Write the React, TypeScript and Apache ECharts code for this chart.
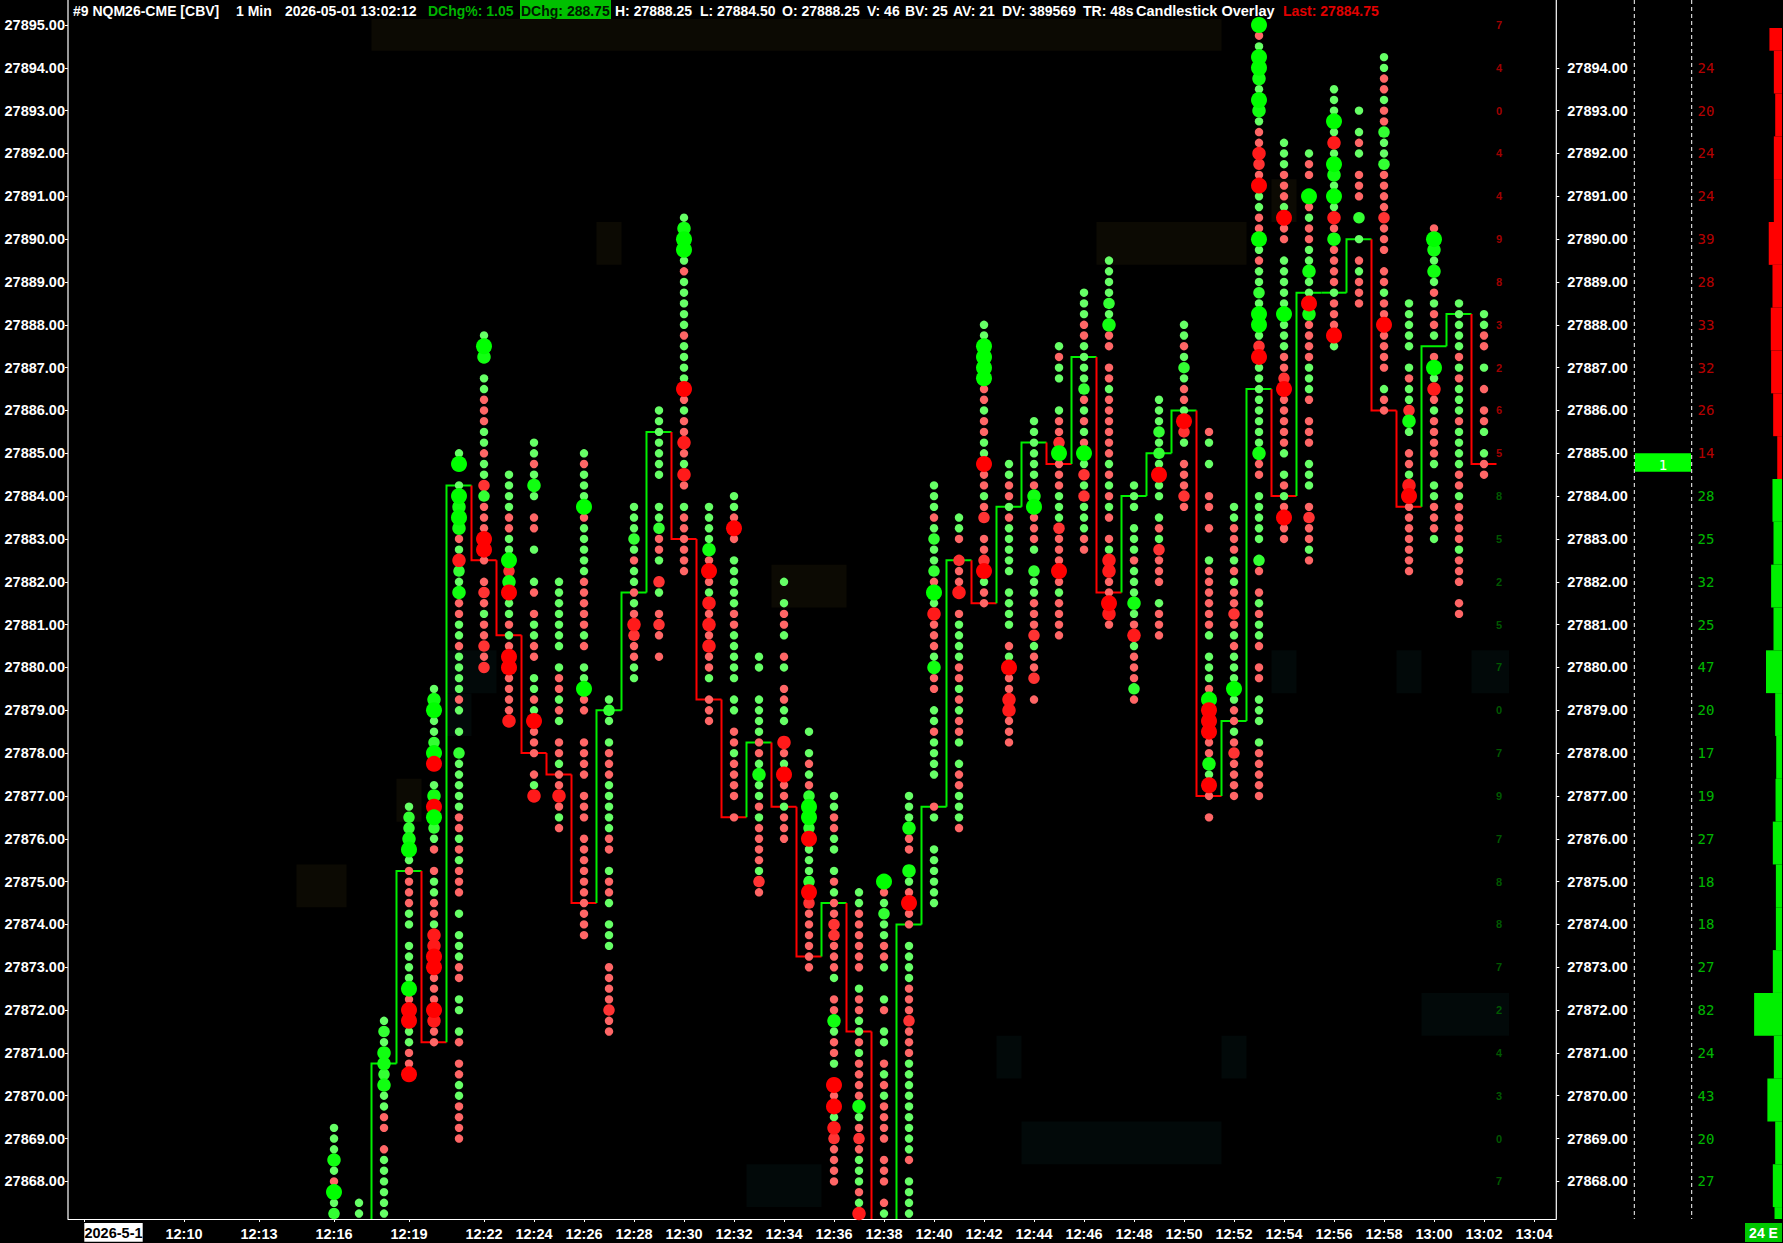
import React, { useEffect, useRef } from "react";
import * as echarts from "echarts";

// ---- price scale
const topPrice = 27895;
const rowStep = 0.25;
const priceTicks = [27895, 27894, 27893, 27892, 27891, 27890, 27889, 27888, 27887, 27886, 27885, 27884, 27883, 27882, 27881, 27880, 27879, 27878, 27877, 27876, 27875, 27874, 27873, 27872, 27871, 27870, 27869, 27868];

// ---- time scale (minutes after 12:00)
const timeTicks = [6, 10, 13, 16, 19, 22, 24, 26, 28, 30, 32, 34, 36, 38, 40, 42, 44, 46, 48, 50, 52, 54, 56, 58, 60, 62, 64];
const timeLabels = ["", "12:10", "12:13", "12:16", "12:19", "12:22", "12:24", "12:26", "12:28", "12:30", "12:32", "12:34", "12:36", "12:38", "12:40", "12:42", "12:44", "12:46", "12:48", "12:50", "12:52", "12:54", "12:56", "12:58", "13:00", "13:02", "13:04"];

// ---- dots: each string runs down the price ladder from its first row, one char per 0.25
const dotMinutes = [16, 17, 18, 19, 20, 21, 22, 23, 24, 25, 26, 27, 28, 29, 30, 31, 32, 33, 34, 35, 36, 37, 38, 39, 40, 41, 42, 43, 44, 45, 46, 47, 48, 49, 50, 51, 52, 53, 54, 55, 56, 57, 58, 59, 60, 61, 62];
const dotFirstRows = [103, 110, 93, 73, 62, 40, 29, 42, 39, 52, 40, 63, 45, 36, 18, 45, 44, 59, 52, 66, 72, 81, 80, 72, 43, 46, 28, 41, 37, 30, 25, 22, 43, 35, 28, 38, 45, 0, 11, 12, 6, 8, 3, 26, 19, 26, 27];
const dotRows = [
  "gggBgrCgA",
  "gg",
  "gAgBBABggrr.rgggggg",
  "gAABCgrrrrgg.ggggCrZZggrrZ",
  "gBCggACZ.gBZCAgr.rggrrgYYZZrrrZYrr",
  "gC.gCBCBrgYAgBrrggrggggrg.g.Agggggrrgrgrrr.g.gggrr.gg.gr.rrggrrrr",
  "gCB.ggrrrggrggXArrrZZr.rXrgrrXrX",
  "ggggrrggCXBZggrgrZZrrrrY",
  "ggrgBg.rr.g..gr.rggrr.ggrgZrrr.rgY",
  "ggggggg.grrgrg.rrgrrYrgr",
  "grgggCrgggggrrrrrgr.ggCrr..rrrr.rrr.rrrrrrrrrr",
  "gAg.grrrgggggrr.grrg.ggg.rrrrXrr",
  "gggAgrggrgrYXrrgg",
  "ggggggg..ggArrg.Xg.rXr.r",
  "gBCCgrgggggrggggZrgrrYrgYr.grrrrrr",
  "ggggBrZrgYrYrYrrg.rrr",
  "ggrZr.gggggrrggggg.gg.rrgrrrr.r",
  "gg..ggggrrgBggrgrrrrgXr",
  "g.grrg.rg.rrgg.YrgZrrgrrr",
  "g.grgrACCAZgggAZXrrrrrr",
  "ggrrgg.grgrrXXrrrg.rrBgrrg.ZrZgYXrrrr",
  "ggrrrrrr.grrggrgrrrrBgrXrgggrgY",
  "CrgAggrrg..gr.gg.rgrgrrrr.rrr.rg",
  "gggBrr.BgrZrr.ggggrrrXrrrgggggggggr.gggg",
  "gggrgAggArCgYrrrgBrr.ggrgggg..rg..gggggg",
  "ggr.XrrY.rggggrrgrgrrg.grrgggr",
  "ggCCCCrrgrrggZrrgrX.rrXZgrr",
  "ggrrgrggggg.gggg.rgZrrYYrrr",
  "ggggggrBCrrrg.AggrrrXgrrX.r",
  "grgg..grrXCrrrgggXrrrZrgrrrr",
  "gggrrggggArgrgrCgXgXgggrr",
  "ggggAgBrr.rrgrrrrrrgrgrgr.rgYYrrZYr",
  "ggg.gggrgggBgrYgrrrAr",
  "gggAgAgZgg.grgXrrr.grrr",
  "ggrgAgrrgZXg.rrrXr",
  "rg.g..rr.r..grrrrrrg.gggrCZZZrrBgZr.r",
  "ggrrrgrgrrXrgrgggCgrrgrXrrrr",
  "CrgCCBgCBgrrYXrZggrrCgrggAgCCgXZggggggggBrr.ggggg.Ar.rgrggr.rr.ggg.grrrrr",
  "gggrrrgZrr.gggggCgggrrXZrrrrrg.grgrZrr",
  "grr.CrgrrggBggZBrrrrgggr.rrr.ggg.rXrrgr",
  "gggCgYgCBgCgYrBrrrrgrrrZg",
  "g.grg.rrr.A.g.rgrrr",
  "ggrrgrrAggArrrrXrrr.rrgrrZrrrr.grr",
  "ggggg.grggXBg.rrgYZrrrrrrr",
  "rCBgBgrgrrg.rCgYrgrrrrg.ggrrrg",
  "gggggrgrgggrggggrrgrrrrgrrr.rr",
  "ggrr.g.r.rrg.grr",
];

// ---- step overlay: close of each one-minute bar
const stepMinutes = [17, 18, 19, 20, 21, 22, 23, 24, 25, 26, 27, 28, 29, 30, 31, 32, 33, 34, 35, 36, 37, 38, 39, 40, 41, 42, 43, 44, 45, 46, 47, 48, 49, 50, 51, 52, 53, 54, 55, 56, 57, 58, 59, 60, 61, 62];
const stepCloses = [27866.5, 27870.75, 27875.25, 27871.25, 27884.25, 27882.5, 27880.75, 27878, 27877.5, 27874.5, 27879, 27881.75, 27885.5, 27883, 27879.25, 27876.5, 27878.25, 27876.75, 27873.25, 27874.5, 27871.5, 27866.5, 27874, 27876.75, 27882.5, 27881.5, 27883.75, 27885.25, 27884.75, 27887.25, 27881.75, 27884, 27885, 27886, 27877, 27878.75, 27886.5, 27884, 27888.75, 27888.75, 27890, 27886, 27883.75, 27887.5, 27888.25, 27884.75];

// ---- shaded cells: [first minute, last minute, price]
const warmBands = [[17.5, 51.5, 27895], [26.5, 27.5, 27890], [46.5, 52.5, 27890], [53.5, 54.5, 27891], [33.5, 36.5, 27882], [18.5, 19.5, 27877], [14.5, 16.5, 27875]];
const coolBands = [[20.5, 22.5, 27880], [20.5, 21.5, 27879], [59.5, 63, 27872], [42.5, 43.5, 27871], [51.5, 52.5, 27871], [43.5, 51.5, 27869], [32.5, 35.5, 27868], [53.5, 54.5, 27880], [58.5, 59.5, 27880], [61.5, 63, 27880]];

// ---- small per-price digits next to the last bar
const digitPrices = priceTicks;
const digitValues = [7, 4, 0, 4, 4, 9, 8, 3, 2, 6, 5, 8, 5, 2, 5, 7, 0, 7, 9, 7, 8, 8, 7, 2, 4, 3, 0, 7];

// ---- volume profile
const profilePrices = [27895, 27894, 27893, 27892, 27891, 27890, 27889, 27888, 27887, 27886, 27885, 27884, 27883, 27882, 27881, 27880, 27879, 27878, 27877, 27876, 27875, 27874, 27873, 27872, 27871, 27870, 27869, 27868];
const profileVolumes = [37, 24, 20, 24, 24, 39, 28, 33, 32, 26, 14, 28, 25, 32, 25, 47, 20, 17, 19, 27, 18, 18, 27, 82, 24, 43, 20, 27];
const profileTail = [[27867, 22]];

// ---- current-price box
const quotePrice = 27885;
const quoteLow = 27884.57;
const quoteSize = 1;

// ---- header
const headerSegments: [string, number, string][] = [
  ["#9 NQM26-CME [CBV]", 73, "#ffffff"],
  ["1 Min", 236, "#ffffff"],
  ["2026-05-01 13:02:12", 285, "#ffffff"],
  ["DChg%: 1.05", 428, "#00b400"],
  ["DChg: 288.75", 521, "#001a00"],
  ["H: 27888.25", 615, "#ffffff"],
  ["L: 27884.50", 700, "#ffffff"],
  ["O: 27888.25", 782, "#ffffff"],
  ["V: 46", 867, "#ffffff"],
  ["BV: 25", 905, "#ffffff"],
  ["AV: 21", 953, "#ffffff"],
  ["DV: 389569", 1002, "#ffffff"],
  ["TR: 48s", 1083, "#ffffff"],
  ["Candlestick Overlay", 1136, "#ffffff"],
  ["Last: 27884.75", 1283, "#e00000"],
];

const FONT = "Liberation Sans";
const DOT: Record<string, [number, string]> = {
  g: [8.4, "#66ff66"],
  r: [8.4, "#ff6666"],
  A: [11.5, "#33ff33"],
  X: [11.5, "#ff3333"],
  B: [13.5, "#11ff11"],
  Y: [13.5, "#ff1a1a"],
  C: [16, "#00ff00"],
  Z: [16, "#ff0000"],
};

function dotData() {
  const out: any[] = [];
  dotRows.forEach((row, c) => {
    row.split("").forEach((ch, i) => {
      if (ch === ".") return;
      const [size, color] = DOT[ch];
      out.push({
        value: [dotMinutes[c], topPrice - rowStep * (dotFirstRows[c] + i)],
        symbolSize: size,
        itemStyle: { color, opacity: 1 },
      });
    });
  });
  out.sort((a, b) => a.symbolSize - b.symbolSize);
  return out;
}

export default function App() {
  const ref = useRef<HTMLDivElement>(null);
  useEffect(() => {
    document.body.style.margin = "0";
    document.body.style.background = "#000";
    const chart = echarts.init(ref.current!, undefined, { renderer: "svg" });

    const yMin = 27867.122;
    const yMaxMain = 27895.14;
    const yMaxSide = 27894.93;
    const hidden = { show: false };

    const cellRect = (api: any, a: number, b: number, lo: number, hi: number) => {
      const p1 = api.coord([a, hi]);
      const p2 = api.coord([b, lo]);
      return { x: p1[0], y: p1[1], width: p2[0] - p1[0], height: p2[1] - p1[1] };
    };

    const header: any[] = headerSegments.map(([text, x, fill]) => ({
      type: "text",
      x,
      y: 11,
      z: 110,
      style: { text, fill, font: `bold ${text.startsWith("Candle") ? 14.5 : 14}px "${FONT}"`, textVerticalAlign: "middle", verticalAlign: "middle" },
    }));

    const option: any = {
      animation: false,
      backgroundColor: "#000000",
      grid: [
        { left: 68, right: 226.7, top: 19, bottom: 24 },
        { left: 1556.3, width: 135.4, top: 28, bottom: 24 },
        { left: 1692, width: 90, top: 28, bottom: 24 },
      ],
      xAxis: [
        {
          type: "value",
          gridIndex: 0,
          min: 5.36,
          max: 64.892,
          splitLine: hidden,
          axisLine: { show: true, onZero: false, lineStyle: { color: "#ffffff", width: 1.2 } },
          axisTick: { show: true, length: 3, customValues: timeTicks, lineStyle: { color: "#ffffff" } },
          axisLabel: {
            show: true,
            customValues: timeTicks,
            margin: 7,
            color: "#ffffff",
            fontFamily: FONT,
            fontWeight: "bold",
            fontSize: 14.5,
            formatter: (v: number) => timeLabels[timeTicks.indexOf(v)] ?? "",
          },
        },
        { type: "value", gridIndex: 1, min: 0, max: 1, show: false },
        { type: "value", gridIndex: 2, min: 0, max: 264.7, inverse: true, show: false },
      ],
      yAxis: [
        {
          type: "value",
          gridIndex: 0,
          min: yMin,
          max: yMaxMain,
          position: "left",
          splitLine: hidden,
          axisLine: hidden,
          axisTick: { show: true, length: 3, customValues: priceTicks, lineStyle: { color: "#ffffff" } },
          axisLabel: {
            show: true,
            customValues: priceTicks,
            margin: 3,
            padding: [5, 0, 0, 0],
            color: "#ffffff",
            fontFamily: FONT,
            fontWeight: "bold",
            fontSize: 14.5,
            formatter: (v: number) => v.toFixed(2),
          },
        },
        {
          type: "value",
          gridIndex: 1,
          min: yMin,
          max: yMaxSide,
          position: "left",
          splitLine: hidden,
          axisLine: hidden,
          axisTick: { show: true, inside: true, length: 3, customValues: priceTicks, lineStyle: { color: "#ffffff" } },
          axisLabel: {
            show: true,
            inside: true,
            customValues: priceTicks,
            margin: 11,
            padding: [5, 0, 0, 0],
            color: "#ffffff",
            fontFamily: FONT,
            fontWeight: "bold",
            fontSize: 14.5,
            formatter: (v: number) => v.toFixed(2),
          },
        },
        { type: "value", gridIndex: 2, min: yMin, max: yMaxSide, show: false },
      ],
      series: [
        {
          type: "custom",
          name: "warm cells",
          xAxisIndex: 0,
          yAxisIndex: 0,
          clip: true,
          z: 1,
          silent: true,
          data: warmBands,
          renderItem: (_: any, api: any) => ({
            type: "rect",
            shape: cellRect(api, api.value(0), api.value(1), api.value(2) - 0.6, api.value(2) + 0.4),
            style: { fill: "#0c0a03" },
          }),
        },
        {
          type: "custom",
          name: "cool cells",
          xAxisIndex: 0,
          yAxisIndex: 0,
          clip: true,
          z: 1,
          silent: true,
          data: coolBands,
          renderItem: (_: any, api: any) => ({
            type: "rect",
            shape: cellRect(api, api.value(0), api.value(1), api.value(2) - 0.6, api.value(2) + 0.4),
            style: { fill: "#020909" },
          }),
        },
        {
          type: "custom",
          name: "overlay",
          xAxisIndex: 0,
          yAxisIndex: 0,
          clip: true,
          z: 2,
          silent: true,
          data: stepMinutes.slice(1).map((m, i) => [m, stepCloses[i], stepCloses[i + 1]]),
          renderItem: (_: any, api: any) => {
            const m = api.value(0);
            const prev = api.value(1);
            const close = api.value(2);
            return {
              type: "polyline",
              shape: { points: [api.coord([m - 0.5, prev]), api.coord([m - 0.5, close]), api.coord([m + 0.5, close])] },
              style: { fill: "none", stroke: close >= prev ? "#00f000" : "#ff0000", lineWidth: 2 },
            };
          },
        },
        {
          type: "scatter",
          name: "dots",
          xAxisIndex: 0,
          yAxisIndex: 0,
          clip: true,
          z: 3,
          silent: true,
          data: dotData(),
        },
        {
          type: "scatter",
          name: "digits",
          xAxisIndex: 0,
          yAxisIndex: 0,
          z: 4,
          silent: true,
          symbolSize: 1,
          itemStyle: { color: "transparent" },
          data: digitPrices.map((p, i) => ({
            value: [62.6, p],
            label: {
              show: true,
              position: "inside",
              color: p >= 27885 ? "#cc0000" : "#007000",
              fontFamily: FONT,
              fontWeight: "bold",
              fontSize: 11,
              formatter: String(digitValues[i]),
            },
          })),
        },
        {
          type: "custom",
          name: "quote",
          xAxisIndex: 1,
          yAxisIndex: 1,
          z: 3,
          silent: true,
          data: [[quotePrice, quoteLow, quoteSize]],
          renderItem: (_: any, api: any) => {
            const r = cellRect(api, 0.58, 0.995, api.value(1), api.value(0));
            return {
              type: "group",
              children: [
                { type: "rect", shape: r, style: { fill: "#00ff00" } },
                {
                  type: "text",
                  x: r.x + r.width / 2,
                  y: r.y + r.height / 2 + 2,
                  style: { text: String(api.value(2)), fill: "#ffffff", font: `14px "DejaVu Sans Mono"`, textAlign: "center", textVerticalAlign: "middle", align: "center", verticalAlign: "middle" },
                },
              ],
            };
          },
        },
        {
          type: "custom",
          name: "profile",
          xAxisIndex: 2,
          yAxisIndex: 2,
          clip: true,
          z: 3,
          silent: true,
          data: profilePrices.map((p, i) => [p, profileVolumes[i]]).concat(profileTail),
          renderItem: (_: any, api: any) => {
            const p = api.value(0);
            const lo = api.coord([api.value(1), p + 0.4]);
            const hi = api.coord([0, p - 0.6]);
            return {
              type: "rect",
              shape: { x: lo[0], y: lo[1], width: hi[0] - lo[0], height: hi[1] - lo[1] },
              style: { fill: p >= 27885 ? "#ff0000" : "#00f000" },
            };
          },
        },
        {
          type: "scatter",
          name: "profile labels",
          xAxisIndex: 2,
          yAxisIndex: 2,
          z: 4,
          silent: true,
          symbolSize: 1,
          itemStyle: { color: "transparent" },
          data: profilePrices.map((p, i) => ({
            value: [250, p],
            label: {
              show: true,
              position: "right",
              distance: 0,
              color: p >= 27885 ? "#e60000" : "#00e600",
              fontFamily: "DejaVu Sans Mono",
              fontSize: 14,
              formatter: String(profileVolumes[i]),
            },
          })),
        },
      ],
      graphic: [
        { type: "rect", z: 100, shape: { x: 1558, y: 0, width: 225, height: 28 }, style: { fill: "#000000" } },
        { type: "line", z: 105, shape: { x1: 68, y1: 0, x2: 68, y2: 1219 }, style: { stroke: "#ffffff", lineWidth: 1.2 } },
        { type: "line", z: 105, shape: { x1: 1556.3, y1: 0, x2: 1556.3, y2: 1219 }, style: { stroke: "#ffffff", lineWidth: 1.2 } },
        { type: "line", z: 105, shape: { x1: 1634.3, y1: 0, x2: 1634.3, y2: 1219 }, style: { stroke: "#ffffff", lineWidth: 1, lineDash: [4, 3] } },
        { type: "line", z: 105, shape: { x1: 1691.7, y1: 0, x2: 1691.7, y2: 1219 }, style: { stroke: "#ffffff", lineWidth: 1, lineDash: [4, 3] } },
        { type: "rect", z: 105, shape: { x: 520, y: 0, width: 91, height: 19 }, style: { fill: "#00c000" } },
        { type: "rect", z: 105, shape: { x: 84.3, y: 1223, width: 58.4, height: 18.7 }, style: { fill: "#ffffff" } },
        { type: "text", z: 110, x: 113.5, y: 1233, style: { text: "2026-5-1", fill: "#000000", font: `bold 14.5px "${FONT}"`, align: "center", verticalAlign: "middle", textAlign: "center", textVerticalAlign: "middle" } },
        { type: "rect", z: 105, shape: { x: 1745, y: 1223, width: 37, height: 19 }, style: { fill: "#00c800" } },
        { type: "text", z: 110, x: 1763.5, y: 1233, style: { text: "24 E", fill: "#ffffff", font: `bold 14px "${FONT}"`, align: "center", verticalAlign: "middle", textAlign: "center", textVerticalAlign: "middle" } },
        ...header,
      ],
    };
    chart.setOption(option);
    return () => chart.dispose();
  }, []);
  return <div ref={ref} style={{ width: 1783, height: 1243, display: "block" }} />;
}
